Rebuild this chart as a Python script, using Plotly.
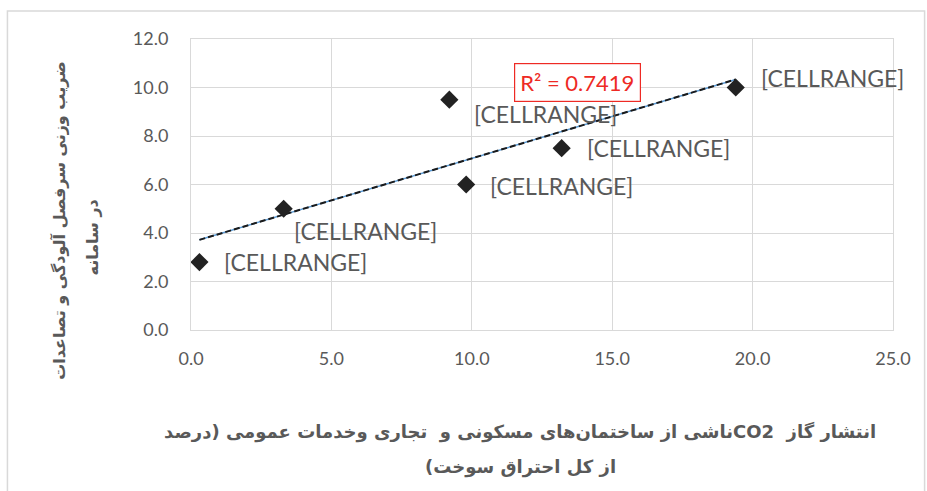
import numpy as np
import plotly.graph_objects as go

# CO2 share (x) vs weighted pollution score (y)
x_vals = [0.3, 3.3, 9.2, 9.8, 13.2, 19.4]
y_vals = [2.8, 5.0, 9.5, 6.0, 7.5, 10.0]
point_labels = ["[CELLRANGE]"] * 6
x_ticks = [0, 5, 10, 15, 20, 25]
y_ticks = [0, 2, 4, 6, 8, 10, 12]
r2_text = "R² = 0.7419"

# label offsets in px (dx, dy)
label_offsets = [(24, 0), (9, -22), (24, -14), (23, -1), (24, 0), (24, 10)]

RLE, PDF = "\u202b", "\u202c"
x_title = ["انتشار گاز  CO2ناشی از ساختمان‌های مسکونی و  تجاری وخدمات عمومی (درصد",
           "از کل احتراق سوخت)"]
y_title = ["ضریب وزنی سرفصل آلودگی و تصاعدات", "در سامانه"]

gray = "#595959"
grid = "#d9d9d9"

# linear trendline
slope, icpt = np.polyfit(x_vals, y_vals, 1)
tx = np.array([min(x_vals), max(x_vals)])
ty = slope * tx + icpt

fig = go.Figure()
fig.add_trace(go.Scatter(x=tx, y=ty, mode="lines",
                         line=dict(color="#5b9bd5", width=1.5), hoverinfo="skip"))
fig.add_trace(go.Scatter(x=tx, y=ty, mode="lines",
                         line=dict(color="#1a1a1a", width=2, dash="6px,3px"), hoverinfo="skip"))
fig.add_trace(go.Scatter(x=x_vals, y=y_vals, mode="markers",
                         marker=dict(symbol="diamond", size=14, color="#222222")))

for xv, yv, lab, (dx, dy) in zip(x_vals, y_vals, point_labels, label_offsets):
    fig.add_annotation(x=xv, y=yv, text=lab, showarrow=False, xanchor="left",
                       yanchor="middle", xshift=dx, yshift=dy, borderpad=0,
                       font=dict(family="Lato", size=23, color=gray))

fig.add_annotation(xref="paper", yref="paper", x=0.5505, y=0.852, text=r2_text,
                   xanchor="center", yanchor="middle",
                   showarrow=False, bordercolor="#ee2a24", borderwidth=1.2, borderpad=5,
                   bgcolor="white", font=dict(family="Lato", size=22, color="#ee2a24"))

for txt, yy in zip(x_title, [-0.352, -0.472]):
    fig.add_annotation(xref="paper", yref="paper", x=0.4687, y=yy,
                       xanchor="center", yanchor="middle",
                       text="<b>" + RLE + txt + PDF + "</b>", showarrow=False,
                       font=dict(family="DejaVu Sans", size=18, color=gray))
for txt, xx, yy in zip(y_title, [-0.1874, -0.1405], [0.377, 0.319]):
    fig.add_annotation(xref="paper", yref="paper", x=xx, y=yy, textangle=-90,
                       xanchor="center", yanchor="middle",
                       text="<b>" + RLE + txt + PDF + "</b>", showarrow=False,
                       font=dict(family="DejaVu Sans", size=16, color=gray))

# outer chart border
fig.add_shape(type="rect", xref="paper", yref="paper", x0=-0.2615, x1=1.045,
              y0=-0.58, y1=1.0963, line=dict(color="#d9d9d9", width=1.5), layer="below")

fig.update_xaxes(range=[0, 25], tickvals=x_ticks, ticktext=[f"{v:.1f}" for v in x_ticks],
                 showgrid=True, gridcolor=grid, gridwidth=1, zeroline=False,
                 showline=True, linecolor=grid, mirror=True, ticks="", ticklen=0,
                 ticklabelstandoff=12,
                 tickfont=dict(family="Lato", size=18, color=gray))
fig.update_yaxes(range=[0, 12], tickvals=y_ticks, ticktext=[f"{v:.1f}" for v in y_ticks],
                 showgrid=True, gridcolor=grid, gridwidth=1, zeroline=False,
                 showline=True, linecolor=grid, mirror=True, ticks="", ticklen=0,
                 ticklabelstandoff=18,
                 tickfont=dict(family="Lato", size=18, color=gray))

fig.update_layout(width=927, height=491, showlegend=False,
                  margin=dict(l=191, r=34, t=39, b=161),
                  paper_bgcolor="white", plot_bgcolor="white")

fig.write_html("out.html", config={"displayModeBar": False},
               post_script="document.body.style.margin='0';")
